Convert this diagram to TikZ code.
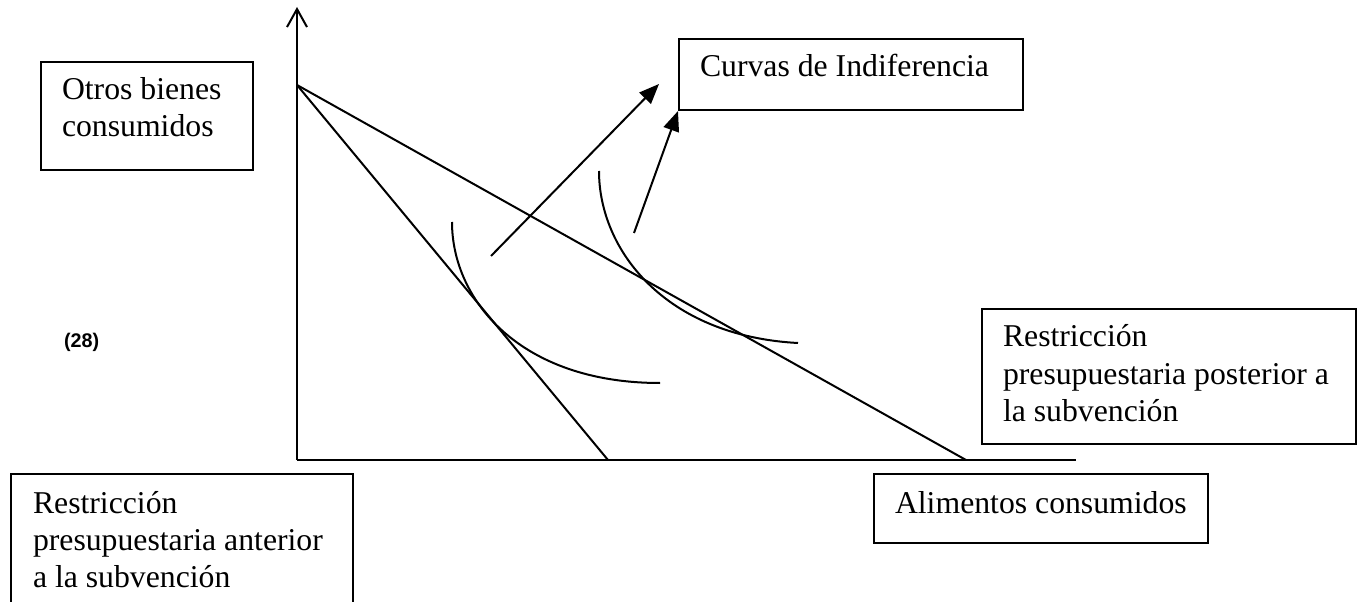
\documentclass[tikz,border=0pt]{standalone}
\usepackage{fontspec}
\setmainfont{Liberation Serif}
\setsansfont{Liberation Sans}
\usetikzlibrary{arrows.meta}

\tikzset{every picture/.style={line width=1.5pt}}
\tikzset{
  marco/.style={draw, anchor=north west, inner sep=0pt},
  texto/.style={anchor=base west, inner sep=0pt, align=left, font=\fontsize{23.8}{27.75}\selectfont},
  flecha/.style={-{Triangle[length=15pt,width=12pt]}}
}

\begin{document}
\begin{tikzpicture}[x=0.75pt,y=0.75pt,yscale=-1,xscale=1]
\useasboundingbox (0,0) rectangle (1364,602);

%Straight Lines: ejes
\coordinate (origen) at (297,460);
\coordinate (ytope) at (297,7);
\coordinate (xfin) at (1076,460);
\draw [-{Straight Barb[length=13.5pt,width=15pt]}] (origen) -- (ytope);
\draw (origen) -- (xfin);

%Straight Lines: restricciones presupuestarias
\coordinate (yinter) at (297,85);
\coordinate (xanterior) at (608,460);
\coordinate (xposterior) at (966,460);
\draw (yinter) -- (xanterior);
\draw (yinter) -- (xposterior);

%Curves: curvas de indiferencia
\draw (452,222) .. controls (452,300) and (520,383) .. (660,383);
\draw (599,171) .. controls (599,250) and (665,336) .. (798,343);

%Shapes: marcos de texto
\node [marco, minimum width=159pt, minimum height=81pt] (otrosmarco) at (40,61) {};
\node [marco, minimum width=258pt, minimum height=53.25pt] (curvasmarco) at (678,38) {};
\node [marco, minimum width=280.5pt, minimum height=101.25pt] (posteriormarco) at (981,308) {};
\node [marco, minimum width=250.5pt, minimum height=51.75pt] (alimentosmarco) at (873,473) {};
\node [marco, minimum width=256.5pt, minimum height=125.25pt] (anteriormarco) at (10,473) {};

%Straight Lines: flechas
\coordinate (flechaA) at (491,256);
\coordinate (puntaA) at (659,84);
\coordinate (flechaB) at (634,233);
\draw [flecha] (flechaA) -- (puntaA);
\draw [flecha] (flechaB) -- (curvasmarco.south west);

% Text Node (base = ultima linea)
\node [texto] (otros) at (61,137) {Otros bienes\\consumidos};
% Text Node
\node [texto] (curvas) at (699,77) {Curvas de Indiferencia};
% Text Node
\node [texto] (posterior) at (1002,421) {Restricción\\presupuestaria posterior a\\la subvención};
% Text Node
\node [texto] (alimentos) at (894,513) {Alimentos consumidos};
% Text Node
\node [texto] (anterior) at (32,587) {Restricción\\presupuestaria anterior\\a la subvención};
% Text Node
\node [anchor=base west, inner sep=0pt, font=\sffamily\bfseries\fontsize{14.8}{18}\selectfont] (numero) at (63,348) {(28)};

\end{tikzpicture}
\end{document}
